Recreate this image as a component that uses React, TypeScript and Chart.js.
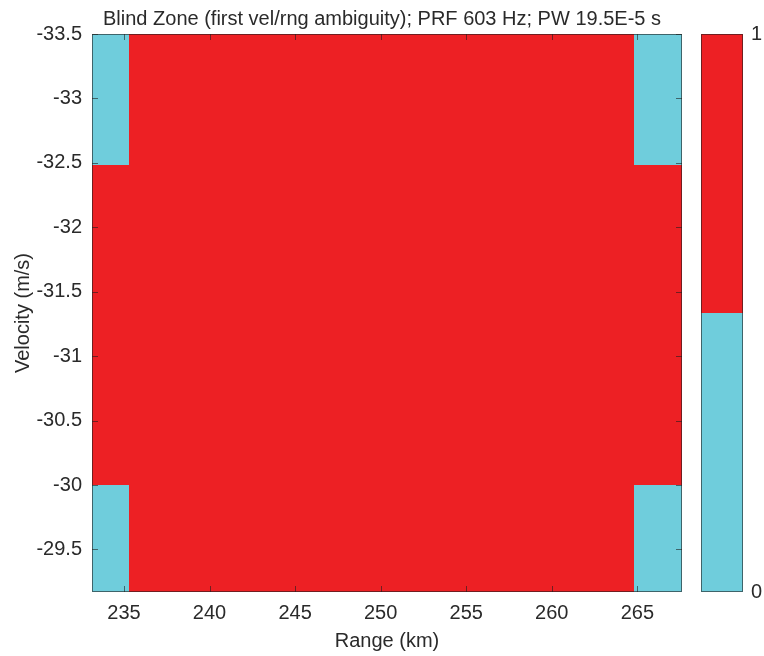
import React, { useEffect, useRef } from "react";
import { Chart, registerables } from "chart.js";

Chart.register(...registerables);

// ---- data ----
const titleText = "Blind Zone (first vel/rng ambiguity); PRF 603 Hz; PW 19.5E-5 s";
const rangeEdges = [233.13, 235.27, 264.78, 267.61];
const velocityEdges = [-33.5, -32.48, -30.0, -29.17];
// rows: velocity bins (top to bottom), cols: range bins (left to right)
const blindZone = [
  [0, 1, 0],
  [1, 1, 1],
  [0, 1, 0],
];
const rangeTicks = [235, 240, 245, 250, 255, 260, 265];
const velocityTicks = [-33.5, -33, -32.5, -32, -31.5, -31, -30.5, -30, -29.5];
const colorbarTicks = [0, 1];
const colorbarEdges = [0, 0.5, 1];
const palette = ["#6fcddc", "#ed2024"];

const FONT = "'Liberation Sans', Arial, Helvetica, sans-serif";
const TEXT = "#2a2a2a";
const LINE = "rgba(30,30,30,0.6)";

const zeroPad = (s: any) => {
  s.paddingTop = 0;
  s.paddingBottom = 0;
  s.paddingLeft = 0;
  s.paddingRight = 0;
};

const heatmapPlugin = {
  id: "heatmap",
  beforeDatasetsDraw(chart: any) {
    const { ctx } = chart;
    const x = chart.scales.x;
    const y = chart.scales.y;
    const cb = chart.scales.cb;
    ctx.save();
    for (let r = 0; r < blindZone.length; r++) {
      for (let c = 0; c < blindZone[r].length; c++) {
        const x0 = Math.round(x.getPixelForValue(rangeEdges[c]));
        const x1 = Math.round(x.getPixelForValue(rangeEdges[c + 1]));
        const y0 = Math.round(y.getPixelForValue(velocityEdges[r]));
        const y1 = Math.round(y.getPixelForValue(velocityEdges[r + 1]));
        ctx.fillStyle = palette[blindZone[r][c]];
        ctx.fillRect(Math.min(x0, x1), Math.min(y0, y1), Math.abs(x1 - x0), Math.abs(y1 - y0));
      }
    }
    // colorbar
    const bx0 = Math.round(cb.left + 19);
    const bx1 = Math.round(cb.left + 61);
    for (let i = 0; i < palette.length; i++) {
      const ya = Math.round(cb.getPixelForValue(colorbarEdges[i]));
      const yb = Math.round(cb.getPixelForValue(colorbarEdges[i + 1]));
      ctx.fillStyle = palette[i];
      ctx.fillRect(bx0, Math.min(ya, yb), bx1 - bx0, Math.abs(yb - ya));
    }
    ctx.restore();
  },
  afterDatasetsDraw(chart: any) {
    const { ctx, chartArea } = chart;
    const x = chart.scales.x;
    const y = chart.scales.y;
    const cb = chart.scales.cb;
    const { left, right, top, bottom } = chartArea;
    const tl = 6;
    ctx.save();
    ctx.strokeStyle = LINE;
    ctx.lineWidth = 1;
    ctx.beginPath();
    for (const t of x.ticks) {
      const px = Math.round(x.getPixelForValue(t.value)) + 0.5;
      ctx.moveTo(px, bottom);
      ctx.lineTo(px, bottom - tl);
      ctx.moveTo(px, top);
      ctx.lineTo(px, top + tl);
    }
    for (const t of y.ticks) {
      const py = Math.round(y.getPixelForValue(t.value)) + 0.5;
      ctx.moveTo(left, py);
      ctx.lineTo(left + tl, py);
      ctx.moveTo(right, py);
      ctx.lineTo(right - tl, py);
    }
    ctx.stroke();
    ctx.strokeRect(Math.round(left) + 0.5, Math.round(top) + 0.5, Math.round(right - left) - 1, Math.round(bottom - top) - 1);
    const bx0 = Math.round(cb.left + 19);
    const bx1 = Math.round(cb.left + 61);
    const by0 = Math.round(cb.getPixelForValue(1));
    const by1 = Math.round(cb.getPixelForValue(0));
    ctx.strokeRect(bx0 + 0.5, by0 + 0.5, bx1 - bx0 - 1, by1 - by0 - 1);
    ctx.restore();
  },
};

export default function App() {
  const ref = useRef<HTMLCanvasElement | null>(null);
  useEffect(() => {
    if (!ref.current) return;
    Chart.defaults.font.family = FONT;
    Chart.defaults.color = TEXT;
    const chart = new Chart(ref.current, {
      type: "scatter",
      data: { datasets: [{ data: [], pointRadius: 0 }] },
      options: {
        animation: false,
        responsive: false,
        devicePixelRatio: 1,
        layout: { padding: 0 },
        plugins: {
          legend: { display: false },
          tooltip: { enabled: false },
          title: {
            display: true,
            text: titleText,
            color: TEXT,
            font: { size: 20, weight: "normal", family: FONT },
            padding: { top: 7.7, bottom: 2.3 },
          },
        },
        scales: {
          x: {
            type: "linear",
            position: "bottom",
            min: rangeEdges[0],
            max: rangeEdges[rangeEdges.length - 1],
            grid: { display: false, drawTicks: false },
            border: { display: false },
            afterBuildTicks: (s: any) => {
              s.ticks = rangeTicks.map((v) => ({ value: v }));
            },
            afterFit: (s: any) => {
              s.height = 64;
              zeroPad(s);
            },
            ticks: {
              padding: 9,
              autoSkip: false,
              maxRotation: 0,
              font: { size: 20, family: FONT },
              color: TEXT,
              callback: (v: any) => String(v),
            },
            title: {
              display: true,
              text: "Range (km)",
              color: TEXT,
              font: { size: 20, family: FONT },
              padding: { top: 0, bottom: 3 },
            },
          },
          y: {
            type: "linear",
            position: "left",
            reverse: true,
            min: velocityEdges[0],
            max: velocityEdges[velocityEdges.length - 1],
            grid: { display: false, drawTicks: false },
            border: { display: false },
            afterBuildTicks: (s: any) => {
              s.ticks = velocityTicks.map((v) => ({ value: v }));
            },
            afterFit: (s: any) => {
              s.width = 92;
              zeroPad(s);
            },
            ticks: {
              padding: 10,
              autoSkip: false,
              font: { size: 20, family: FONT },
              color: TEXT,
              callback: (v: any) => String(v),
            },
            title: {
              display: true,
              text: "Velocity (m/s)",
              color: TEXT,
              font: { size: 20, family: FONT },
              padding: { top: 11.5, bottom: 0 },
            },
          },
          cb: {
            type: "linear",
            position: "right",
            min: 0,
            max: 1,
            grid: { display: false, drawTicks: false },
            border: { display: false },
            afterBuildTicks: (s: any) => {
              s.ticks = colorbarTicks.map((v) => ({ value: v }));
            },
            afterFit: (s: any) => {
              s.width = 82;
              zeroPad(s);
            },
            ticks: {
              padding: 69,
              autoSkip: false,
              font: { size: 20, family: FONT },
              color: TEXT,
              callback: (v: any) => String(v),
            },
          },
        },
      },
      plugins: [heatmapPlugin],
    } as any);
    return () => chart.destroy();
  }, []);
  return (
    <div style={{ position: "absolute", left: 0, top: 0, width: 764, height: 656, background: "#fff" }}>
      <canvas ref={ref} width={764} height={656} style={{ display: "block", width: 764, height: 656 }} />
    </div>
  );
}
